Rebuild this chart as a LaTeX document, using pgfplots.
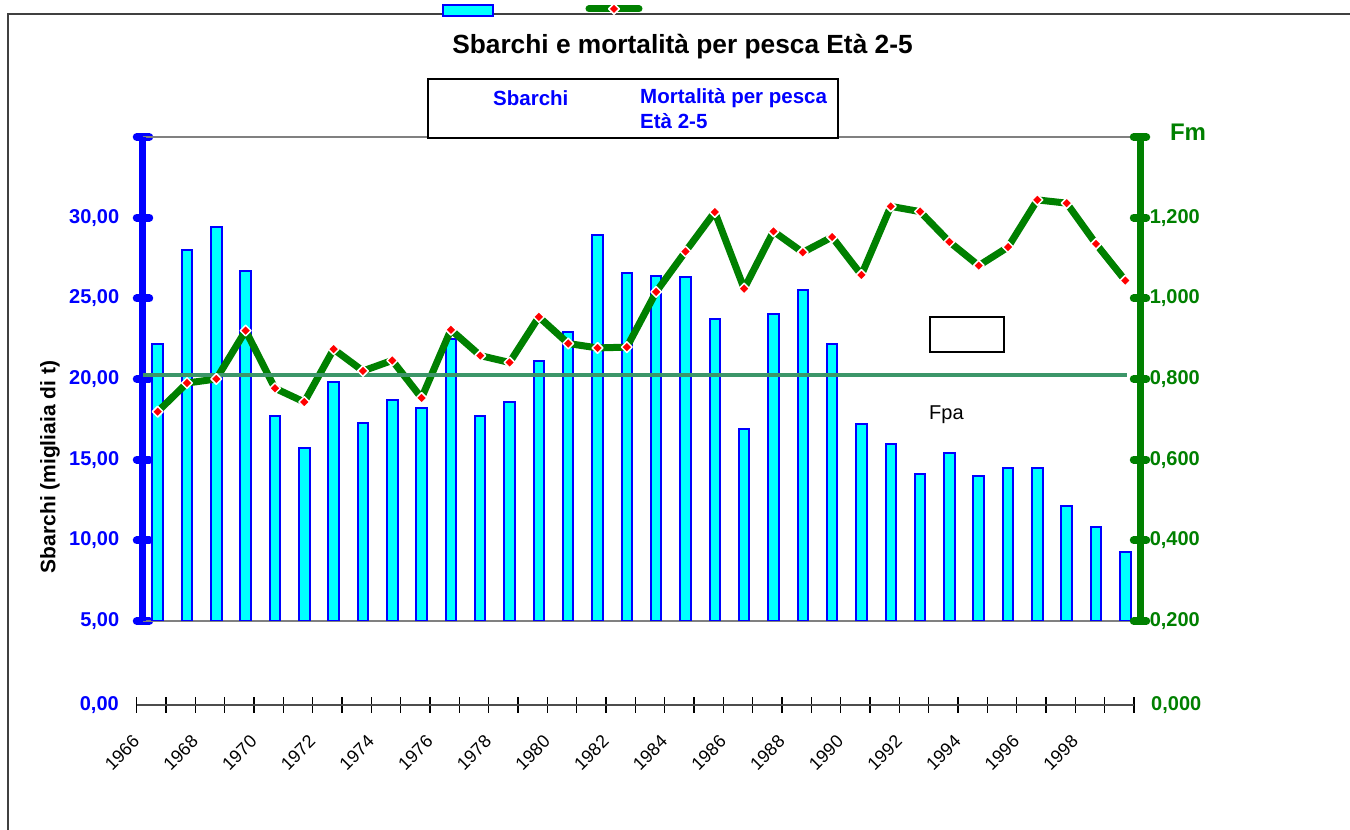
\documentclass[border=0pt]{standalone}
\usepackage{pgfplots}
\pgfplotsset{compat=1.18}
\usepackage{pgfplotstable}
\usepackage{fontspec}
\setmainfont{Liberation Sans}

\definecolor{barfill}{RGB}{0,255,255}
\definecolor{baredge}{RGB}{0,0,255}
\definecolor{fgreen}{RGB}{0,128,0}
\definecolor{fpagreen}{RGB}{60,150,105}
\definecolor{framegray}{RGB}{128,128,128}

\newcommand{\fs}[1]{\fontsize{#1}{#1}\selectfont}

\pgfplotsset{
  barlegend/.style={legend image code/.code={\draw[##1] (0pt,-5.5pt) rectangle (50pt,5.5pt);}},
  linelegend/.style={legend image code/.code={\draw[##1, line cap=round, mark repeat=2, mark phase=2]
    plot coordinates {(0pt,2pt) (25pt,2pt) (50pt,2pt)};}},
}

% sbarchi in migliaia di t, fm = mortalita per pesca eta 2-5
\pgfplotstableread{
year sbarchi fm
1966 22.2 0.719
1967 28.0 0.790
1968 29.4 0.800
1969 26.7 0.920
1970 17.7 0.777
1971 15.7 0.743
1972 19.8 0.874
1973 17.3 0.820
1974 18.7 0.846
1975 18.2 0.753
1976 22.5 0.922
1977 17.7 0.858
1978 18.6 0.841
1979 21.1 0.954
1980 22.9 0.888
1981 28.9 0.877
1982 26.6 0.879
1983 26.4 1.016
1984 26.3 1.116
1985 23.7 1.214
1986 16.9 1.024
1987 24.0 1.166
1988 25.5 1.114
1989 22.2 1.152
1990 17.2 1.058
1991 16.0 1.228
1992 14.1 1.215
1993 15.4 1.140
1994 14.0 1.081
1995 14.5 1.127
1996 14.5 1.244
1997 12.1 1.236
1998 10.8 1.135
1999  9.3 1.044
}\dati

\begin{document}
\begin{tikzpicture}
\useasboundingbox (0pt,0pt) rectangle (1350pt,830pt);
% cornice del grafico
\draw[line width=2pt, black!75] (8pt,0pt) -- (8pt,816pt) -- (1352pt,816pt);

% asse sinistro: sbarchi
\begin{axis}[
  at={(143pt,209pt)}, anchor=south west,
  scale only axis, width=997pt, height=484pt,
  xmin=1965.5, xmax=1999.5, ymin=5, ymax=35,
  enlargelimits=false,
  xtick=\empty,
  axis y line*=left,
  separate axis lines,
  x axis line style={framegray, line width=2pt},
  y axis line style={baredge, line width=7pt},
  ytick={5,10,15,20,25,30,35},
  yticklabels={{5,00},{10,00},{15,00},{20,00},{25,00},{30,00},{}},
  tick align=center, major tick length=12.5pt,
  tick style={baredge, line width=8pt, line cap=round},
  yticklabel style={font=\fs{20}\bfseries, text=baredge, xshift=-14pt},
]
\addplot[ybar, bar width=10.5pt, fill=barfill, draw=baredge, line width=2pt]
  table[x=year, y=sbarchi] {\dati};
\end{axis}

% asse destro: Fm
\begin{axis}[
  at={(143pt,209pt)}, anchor=south west,
  scale only axis, width=997pt, height=484pt,
  xmin=1965.5, xmax=1999.5, ymin=0.2, ymax=1.4,
  enlargelimits=false,
  axis x line=none, axis y line*=right,
  y axis line style={fgreen, line width=7pt},
  ytick={0.2,0.4,0.6,0.8,1.0,1.2,1.4},
  yticklabels={{0,200},{0,400},{0,600},{0,800},{1,000},{1,200},{}},
  tick align=center, major tick length=12.5pt,
  tick style={fgreen, line width=8pt, line cap=round},
  yticklabel style={font=\fs{20}\bfseries, text=fgreen},
  legend columns=2,
  legend style={at={(axis description cs:0.2999,1.2614)}, anchor=west,
    draw=none, fill=none, inner sep=0pt, outer sep=0pt,
    nodes={inner sep=0pt, outer sep=0pt},
    /tikz/every even column/.append style={column sep=90.5pt}},
]
\addlegendimage{fill=barfill, draw=baredge, line width=2pt, barlegend}
\addlegendentry{}
\addplot[fgreen, line width=7pt, line join=round,
  mark=square*, mark size=3.8pt,
  mark options={rotate=45, fill=red, draw=white, line width=1.5pt},
  linelegend]
  table[x=year, y=fm] {\dati};
\addlegendentry{}
% Fpa
\addplot[fpagreen, line width=4pt, forget plot] coordinates {(1965.5,0.81) (1999.05,0.81)};
\end{axis}

% asse degli anni
\begin{axis}[
  at={(136.7pt,125pt)}, anchor=south west,
  scale only axis, width=997.3pt, height=10pt,
  xmin=0, xmax=34, ymin=0, ymax=1,
  clip=false,
  axis y line=none, axis x line*=bottom,
  x axis line style={black!70, line width=2pt},
  xtick={0,2,...,32},
  xticklabels={1966,1968,1970,1972,1974,1976,1978,1980,
    1982,1984,1986,1988,1990,1992,1994,1996,1998},
  minor xtick={1,3,...,33,34},
  tick align=center, major tick length=16pt, minor tick length=16pt,
  tick style={black, line width=1.5pt},
  xticklabel style={font=\fs{18}, yshift=-23pt, xshift=2pt, rotate=45, anchor=east},
]
\node[anchor=east, inner sep=0pt, font=\fs{20}\bfseries, text=baredge, xshift=-17.7pt] at (axis cs:0,0) {0,00};
\node[anchor=west, inner sep=0pt, font=\fs{20}\bfseries, text=fgreen, xshift=17pt] at (axis cs:34,0) {0,000};
\end{axis}

\node[font=\fs{26.3}\bfseries] at (682.5pt,783pt) {Sbarchi e mortalità per pesca Età 2-5};
\draw[fill=white, line width=1.5pt] (428pt,692pt) rectangle (838pt,751pt);
\node[anchor=west, inner sep=0pt, font=\fs{20.5}\bfseries, text=baredge] at (493pt,732pt) {Sbarchi};
\node[anchor=west, inner sep=0pt, font=\fs{20.5}\bfseries, text=baredge] at (640pt,732pt) {Mortalità per pesca};
\node[anchor=west, inner sep=0pt, font=\fs{20.5}\bfseries, text=baredge] at (640pt,709pt) {Età 2-5};
\draw[line width=2pt] (930pt,478pt) rectangle (1004pt,513pt);
\node[anchor=west, inner sep=0pt, font=\fs{20}] at (929pt,415pt) {Fpa};
\node[font=\fs{24}\bfseries, text=fgreen] at (1188pt,698pt) {Fm};
\node[rotate=90, font=\fs{21}\bfseries] at (50pt,363pt) {Sbarchi (migliaia di t)};
\end{tikzpicture}
\end{document}
